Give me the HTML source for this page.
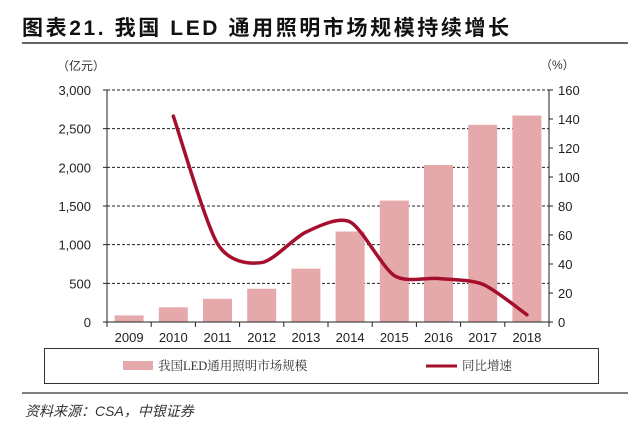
<!DOCTYPE html>
<html><head><meta charset="utf-8"><style>
body{margin:0;width:640px;height:430px;background:#fff;overflow:hidden;font-family:"Liberation Sans","Noto Sans CJK SC",sans-serif}
</style></head><body>
<svg width="640" height="430" viewBox="0 0 640 430">
<text x="22" y="35" font-size="21" font-weight="bold" letter-spacing="2.6" fill="#111" font-family="Liberation Sans, Noto Sans CJK SC, sans-serif">图表21. 我国 LED 通用照明市场规模持续增长</text>
<line x1="22" y1="43" x2="628" y2="43" stroke="#333" stroke-width="1.5"/>
<text x="57" y="70" font-size="12" fill="#333">（亿元）</text>
<text x="540" y="69" font-size="12" fill="#333">（%）</text>
<g id="grid"></g><g id="bars"></g><g id="axes"></g><g id="line"></g>
<rect x="44.5" y="348.5" width="554" height="35" fill="none" stroke="#333" stroke-width="1"/>
<rect x="123" y="361" width="30" height="9" fill="#e6a9ab"/>
<text x="158" y="370" font-size="12.5" fill="#333" font-family="Liberation Serif, Noto Serif CJK SC, serif">我国LED通用照明市场规模</text>
<line x1="426" y1="366" x2="457" y2="366" stroke="#a50f2d" stroke-width="3"/>
<text x="462" y="370" font-size="12.5" fill="#333" font-family="Liberation Serif, Noto Serif CJK SC, serif">同比增速</text>
<line x1="22" y1="393" x2="628" y2="393" stroke="#555" stroke-width="1.5"/>
<text x="25" y="416" font-size="14" font-style="italic" fill="#333">资料来源：CSA，中银证券</text>
</svg>
<script>
const categories=["2009","2010","2011","2012","2013","2014","2015","2016","2017","2018"];
const marketSize=[85,190,300,430,690,1170,1570,2030,2550,2670];
const growth=[null,142,54,41,62,69,32,30,26,5];
const leftTicks=[0,500,1000,1500,2000,2500,3000];
const leftTickLabels=["0","500","1,000","1,500","2,000","2,500","3,000"];
const rightTicks=[0,20,40,60,80,100,120,140,160];

const NS="http://www.w3.org/2000/svg";
const X0=107,X1=549,Y0=322,Y1=90;
const step=(X1-X0)/categories.length;
const xc=i=>X0+step*(i+0.5);
const yL=v=>Y0-(v/3000)*(Y0-Y1);
const yR=v=>Y0-(v/160)*(Y0-Y1);
function mk(tag,attrs,parent){const e=document.createElementNS(NS,tag);for(const k in attrs)e.setAttribute(k,attrs[k]);document.getElementById(parent).appendChild(e);return e;}

leftTicks.forEach((t,i)=>{
  if(t>0){const g=mk('line',{x1:X0,x2:X1,y1:yL(t),y2:yL(t),stroke:'#222','stroke-width':1,'stroke-dasharray':'3,2'},'grid');
  
  }
  const tk=mk('line',{x1:X0-4,x2:X0,y1:yL(t),y2:yL(t),stroke:'#222'},'axes');
  
  
  const lb=mk('text',{x:X0-16,y:yL(t)+5,'font-size':13,'text-anchor':'end',fill:'#222','font-family':'Liberation Sans Narrow, Liberation Sans, sans-serif'},'axes');
  lb.textContent=leftTickLabels[i];
  
  
});
rightTicks.forEach(t=>{
  const tk=mk('line',{x1:X1,x2:X1+4,y1:yR(t),y2:yR(t),stroke:'#222'},'axes');
  
  
  const lb=mk('text',{x:X1+9,y:yR(t)+5,'font-size':13,fill:'#222','font-family':'Liberation Sans Narrow, Liberation Sans, sans-serif'},'axes');
  lb.textContent=t;
  
  
});
categories.forEach((c,i)=>{
  const b=mk('rect',{x:xc(i)-14.5,y:yL(marketSize[i]),width:29,height:Y0-yL(marketSize[i]),fill:'#e6a9ab'},'bars');
  
  
  const lb=mk('text',{x:xc(i),y:Y0+20,'font-size':13,'text-anchor':'middle',fill:'#222','font-family':'Liberation Sans Narrow, Liberation Sans, sans-serif'},'axes');
  lb.textContent=c;
  
  
});
for(let i=0;i<=categories.length;i++){
  const tk=mk('line',{x1:X0+step*i,x2:X0+step*i,y1:Y0,y2:Y0+5,stroke:'#222'},'axes');
  
  
}
[['left-axis',X0,X0,Y1,Y0],['right-axis',X1,X1,Y1,Y0],['x-axis',X0,X1,Y0,Y0]].forEach(a=>{
  const l=mk('line',{x1:a[1],x2:a[2],y1:a[3],y2:a[4],stroke:'#222','stroke-width':1},'axes');
  
  
});
const pts=[];growth.forEach((g,i)=>{if(g!==null)pts.push([xc(i),yR(g)]);});
let d='M'+pts[0][0]+','+pts[0][1];
for(let i=0;i<pts.length-1;i++){
  const p0=pts[Math.max(0,i-1)],p1=pts[i],p2=pts[i+1],p3=pts[Math.min(pts.length-1,i+2)];
  const t=1/7.5;
  d+=` C${p1[0]+(p2[0]-p0[0])*t},${p1[1]+(p2[1]-p0[1])*t} ${p2[0]-(p3[0]-p1[0])*t},${p2[1]-(p3[1]-p1[1])*t} ${p2[0]},${p2[1]}`;
}
const ln=mk('path',{d:d,fill:'none',stroke:'#a50f2d','stroke-width':3.5,'stroke-linecap':'round'},'line');


</script>
</body></html>
